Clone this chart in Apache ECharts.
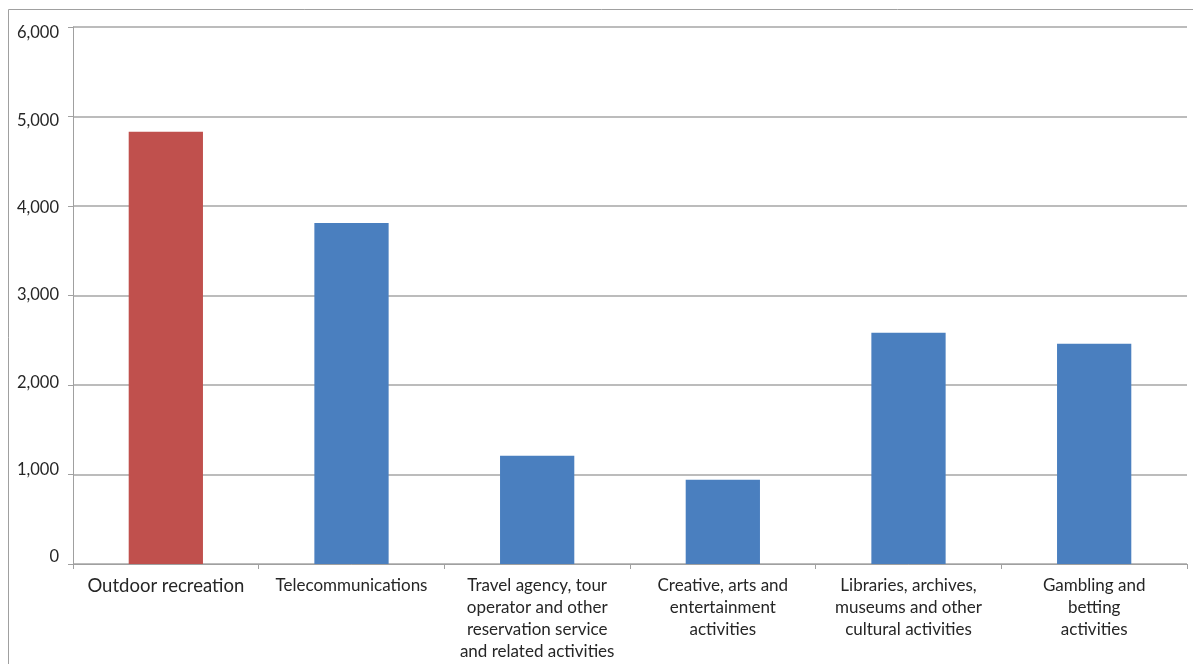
<!DOCTYPE html>
<html>
<head>
<meta charset="utf-8">
<script src="https://cdn.jsdelivr.net/npm/echarts@6/dist/echarts.min.js"></script>
<style>
  html, body { margin: 0; padding: 0; background: #fff; overflow: hidden; }
  #chart { width: 1193px; height: 664px; }
</style>
</head>
<body>
<div id="chart"></div>
<script>
// categories and values
const categories = [
  'Outdoor recreation',
  'Telecommunications',
  'Travel agency, tour\noperator and other\nreservation service\nand related activities',
  'Creative, arts and\nentertainment\nactivities',
  'Libraries, archives,\nmuseums and other\ncultural activities',
  'Gambling and\nbetting\nactivities'
];
const values = [4830, 3810, 1210, 940, 2585, 2460];
const barColors = ['#C0504D', '#4A7FBF', '#4A7FBF', '#4A7FBF', '#4A7FBF', '#4A7FBF'];

const chart = echarts.init(document.getElementById('chart'));

const option = {
  animation: false,
  textStyle: { fontFamily: 'Lato, "Open Sans", sans-serif' },
  graphic: [{
    type: 'rect',
    shape: { x: 8.5, y: 9.5, width: 1300, height: 800 },
    style: { fill: 'none', stroke: '#a0a0a0', lineWidth: 1 },
    silent: true
  }],
  grid: [
    { left: 73, top: 27, right: 6, bottom: 100 },
    // labels of the value axis sit on a slightly tighter scale in the original
    { left: 73, top: 33, right: 6, bottom: 107 }
  ],
  xAxis: [{
    type: 'category',
    data: categories,
    axisLine: { lineStyle: { color: '#a0a0a0', width: 1 } },
    axisTick: { show: true, interval: 0, alignWithLabel: false, length: 5, lineStyle: { color: '#a0a0a0' } },
    axisLabel: {
      interval: 0,
      color: '#262626',
      fontSize: 17,
      lineHeight: 22,
      margin: 11,
      fontFamily: 'Lato',
      formatter: (v, i) => i === 0 ? '{big|' + v + '}' : v,
      rich: { big: { fontSize: 18.5, fontFamily: 'Lato', color: '#262626' } }
    }
  }, {
    type: 'category',
    gridIndex: 1,
    data: categories,
    show: false
  }],
  yAxis: [{
    type: 'value',
    min: 0,
    max: 6000,
    interval: 1000,
    axisLine: { show: true, lineStyle: { color: '#a0a0a0', width: 1 } },
    axisTick: { show: true, length: 5, lineStyle: { color: '#a0a0a0' } },
    splitLine: { lineStyle: { color: '#a6a6a6', width: 1.5 } },
    axisLabel: { show: false }
  }, {
    type: 'value',
    gridIndex: 1,
    min: 0,
    max: 6000,
    interval: 1000,
    axisLine: { show: false },
    axisTick: { show: false },
    splitLine: { show: false },
    axisLabel: {
      color: '#262626',
      fontSize: 16.5,
      margin: 14,
      fontFamily: 'Lato',
      formatter: v => v.toLocaleString('en-US')
    }
  }],
  series: [{
    type: 'bar',
    barCategoryGap: '60%',
    data: values.map((v, i) => ({ value: v, itemStyle: { color: barColors[i] } })),
    itemStyle: { borderWidth: 0 }
  }]
};

chart.setOption(option);
</script>
</body>
</html>
